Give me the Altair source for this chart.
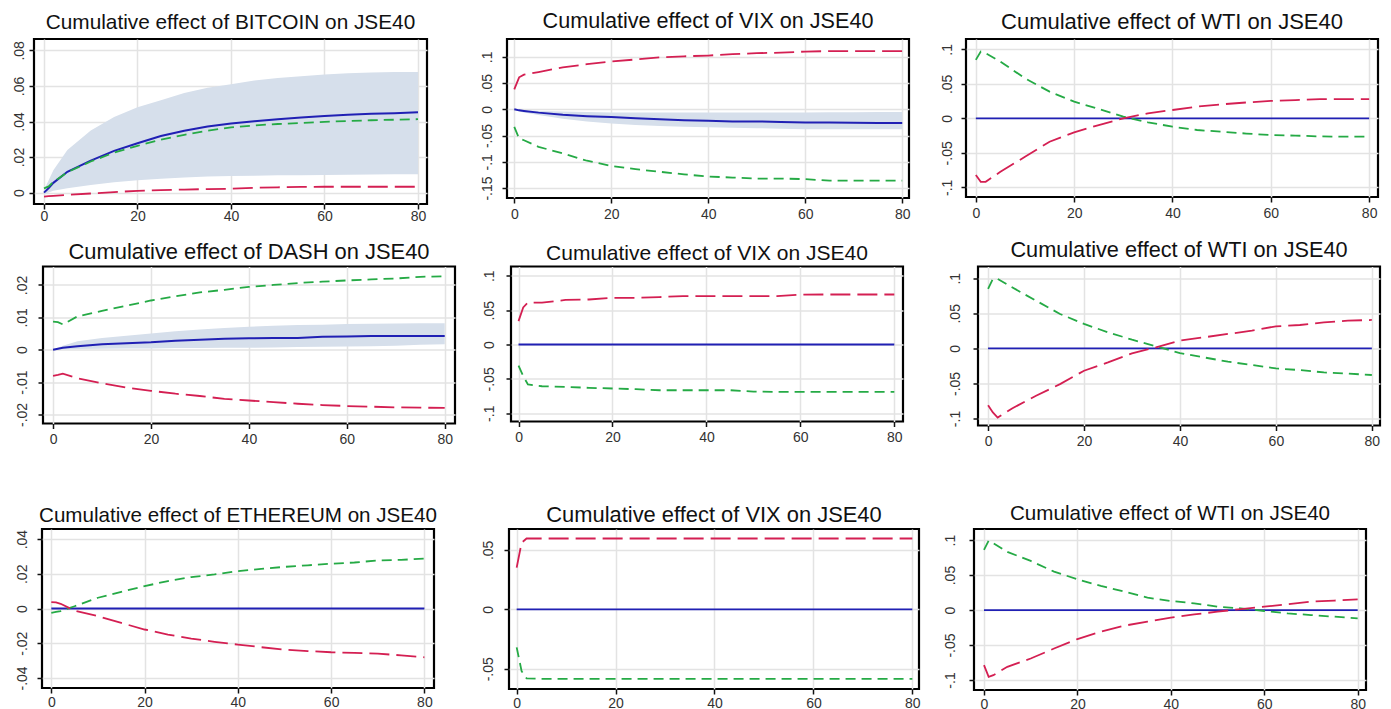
import altair as alt
import pandas as pd

STEPS = [0, 1, 2, 5, 10, 15, 20, 25, 30, 35, 40, 45, 50, 55, 60, 65, 70, 75, 80]
X_TICKS = [0, 20, 40, 60, 80]

zero_line = [0, 0, 0, 0, 0, 0, 0, 0, 0, 0, 0, 0, 0, 0, 0, 0, 0, 0, 0]

# Panel 1: BITCOIN
btc_irf = [0, .0025, .0055, .0117, .018, .0235, .0278, .0318, .0348, .0372, .0389, .0402, .0413, .0422, .0431, .0438, .0443, .0447, .0452]
btc_green = [.0024, .0035, .006, .0115, .0175, .0225, .0263, .0298, .0325, .0348, .0367, .0378, .0386, .0392, .0398, .0403, .0407, .041, .0413]
btc_red = [-.0022, -.002, -.0018, -.0013, -.0005, .0003, .001, .0014, .0017, .002, .0022, .0027, .003, .0032, .0033, .0033, .0033, .0033, .0033]
btc_hi = [.0015, .007, .0126, .024, .035, .0425, .048, .052, .056, .059, .061, .063, .0645, .0655, .0665, .0672, .0676, .0678, .0679]
btc_lo = [-.001, 0, .001, .0024, .0043, .0058, .007, .0078, .0085, .009, .0093, .0095, .0097, .0098, .0099, .0101, .0102, .0103, .0104]

# Panel 2: VIX (row 1)
vix1_irf = [0, -.002, -.003, -.0063, -.0105, -.013, -.0146, -.017, -.019, -.021, -.022, -.023, -.023, -.024, -.025, -.025, -.0255, -.026, -.026]
vix1_hi = [0, -.001, -.002, -.003, -.004, -.005, -.006, -.006, -.006, -.006, -.006, -.006, -.006, -.006, -.006, -.0055, -.0055, -.005, -.005]
vix1_lo = [0, -.004, -.006, -.011, -.018, -.023, -.027, -.030, -.032, -.033, -.034, -.035, -.036, -.037, -.038, -.038, -.038, -.038, -.038]
vix1_red = [.038, .061, .066, .071, .080, .086, .091, .095, .099, .101, .1025, .105, .107, .108, .110, .111, .111, .111, .111]
vix1_green = [-.0335, -.0557, -.059, -.0715, -.084, -.098, -.108, -.114, -.119, -.124, -.128, -.130, -.132, -.132, -.133, -.136, -.136, -.136, -.136]

# Panel 3: WTI (row 1)
wti1_green = [.0847, .0968, .0944, .0823, .058, .0387, .0242, .0136, .0024, -.0058, -.0121, -.0169, -.0194, -.022, -.0242, -.025, -.0262, -.0266, -.0266]
wti1_red = [-.082, -.092, -.092, -.0774, -.0557, -.0339, -.0203, -.0097, 0, .0073, .0121, .017, .0203, .023, .0252, .0265, .028, .028, .028]

# Panel 4: DASH
dash_irf = [0, .0003, .0006, .0011, .0017, .002, .0023, .0028, .0031, .0034, .0035, .0036, .0036, .004, .0041, .0042, .0042, .0042, .0042]
dash_hi = [0, .0006, .0012, .0026, .0036, .0043, .005, .0057, .0062, .0067, .0071, .0074, .0076, .0077, .0079, .008, .0081, .0082, .0082]
dash_lo = [0, .0001, .0001, .0002, .0003, .0004, .0004, .0005, .0005, .0006, .0006, .0007, .0008, .0009, .001, .0011, .0012, .0015, .0017]
dash_green = [.0087, .0085, .0078, .0103, .012, .0136, .0152, .0165, .0177, .0185, .0194, .02, .0206, .021, .0214, .0217, .022, .0225, .0227]
dash_red = [-.0081, -.0078, -.0074, -.0088, -.0104, -.0117, -.0127, -.0136, -.0143, -.0152, -.0157, -.0162, -.0167, -.0171, -.0174, -.0176, -.0178, -.0179, -.018]

# Panel 5: VIX (row 2)
vix2_red = [.034, .054, .061, .061, .0648, .0655, .068, .068, .069, .0704, .0704, .0704, .0704, .0704, .0725, .0728, .0728, .0728, .0728]
vix2_green = [-.0306, -.046, -.058, -.0607, -.0617, -.063, -.064, -.065, -.0665, -.0665, -.0665, -.0665, -.0684, -.069, -.069, -.069, -.069, -.069, -.069]

# Panel 6: WTI (row 2)
wti2_green = [.0848, .099, .099, .087, .068, .049, .0348, .0229, .0124, .0029, -.0067, -.0129, -.019, -.0238, -.0286, -.031, -.0343, -.036, -.038]
wti2_red = [-.081, -.0914, -.0986, -.0857, -.0676, -.051, -.0319, -.02, -.0071, .0014, .011, .0157, .0205, .0252, .0314, .0333, .0371, .0395, .0405]

# Panel 7: ETHEREUM
eth_green = [-.0025, -.002, -.0015, .0013, .0062, .0096, .0129, .0158, .0181, .0196, .0215, .0228, .024, .0249, .0258, .0265, .0277, .028, .0288]
eth_red = [.0037, .0035, .0027, -.0012, -.0044, -.0083, -.0121, -.015, -.0173, -.0192, -.0208, -.0223, -.0237, -.0245, -.0252, -.0256, -.026, -.027, -.0281]

# Panel 8: VIX (row 3)
vix3_red = [.035, .056, .0595, .0595, .0595, .0595, .0595, .0595, .0595, .0595, .0595, .0595, .0595, .0595, .0595, .0595, .0595, .0595, .0595]
vix3_green = [-.032, -.052, -.058, -.0585, -.0585, -.0585, -.0585, -.0585, -.0585, -.0585, -.0585, -.0585, -.0585, -.0585, -.0585, -.0585, -.0585, -.0585, -.0585]

# Panel 9: WTI (row 3)
wti3_green = [.086, .099, .0955, .083, .0702, .0549, .0439, .0344, .0263, .0177, .0129, .0096, .0048, .0024, -.0014, -.0048, -.0072, -.0095, -.0119]
wti3_red = [-.0788, -.0955, -.0931, -.0812, -.0693, -.055, -.0415, -.031, -.0224, -.0167, -.011, -.0062, -.0024, .0014, .0048, .0081, .012, .0135, .0153]

BLUE = "#2020b4"
RED = "#d41f52"
GREEN = "#25aa45"
BAND = "#d6dfeb"

LABEL_EXPR = ("datum.value == 0 ? '0' : (datum.value < 0 ? '-' + substring(format(-datum.value, '~g'), 1)"
              " : substring(format(datum.value, '~g'), 1))")


def spacer(w):
    return alt.Chart(pd.DataFrame({"a": [0]})).mark_rule(opacity=0).encode(
        x=alt.value(0), x2=alt.value(w), y=alt.value(0)
    ).properties(width=w, height=1, view=alt.ViewBackground(stroke="transparent"))


def panel(title, irf, red, green, ydom, yticks, xdom, w, h, toff, tsize,
          lo=None, hi=None, xext=24, blue_w=1.8, ypad=15, xpad=4):
    cols = {"step": STEPS, "irf": irf, "red": red, "green": green}
    if lo is not None:
        cols["lo"] = lo
        cols["hi"] = hi
    df = pd.DataFrame(cols)
    xs = alt.Scale(domain=xdom, nice=False, zero=False)
    ys = alt.Scale(domain=ydom, nice=False, zero=False)
    xa = alt.Axis(values=X_TICKS, title=None, minExtent=xext, maxExtent=xext, labelPadding=xpad)
    ya = alt.Axis(values=yticks, title=None, labelExpr=LABEL_EXPR, labelPadding=ypad)
    x = alt.X("step:Q", scale=xs, axis=xa)
    base = alt.Chart(df)
    layers = []
    if lo is not None:
        layers.append(base.mark_area(color=BAND, opacity=1).encode(
            x=x, y=alt.Y("lo:Q", scale=ys, axis=ya), y2="hi:Q"))
    layers.append(base.mark_line(color=BLUE, strokeWidth=blue_w).encode(
        x=x, y=alt.Y("irf:Q", scale=ys, axis=ya)))
    layers.append(base.mark_line(color=GREEN, strokeWidth=1.8, strokeDash=[10, 6]).encode(
        x=x, y=alt.Y("green:Q", scale=ys, axis=ya)))
    layers.append(base.mark_line(color=RED, strokeWidth=1.8, strokeDash=[20, 7]).encode(
        x=x, y=alt.Y("red:Q", scale=ys, axis=ya)))
    return alt.layer(*layers).properties(
        width=w, height=h, title=alt.TitleParams(text=title, offset=toff, fontSize=tsize))


T = "Cumulative effect of {} on JSE40"

p1 = panel(T.format("BITCOIN"), btc_irf, btc_red, btc_green, [-0.0064, 0.0864],
           [0, .02, .04, .06, .08], [-2.14, 81.93], 393, 165, 5.6, 20.8,
           lo=btc_lo, hi=btc_hi, blue_w=2, ypad=10, xpad=0)
p2 = panel(T.format("VIX"), vix1_irf, vix1_red, vix1_green, [-0.169, 0.134],
           [-.15, -.1, -.05, 0, .05, .1], [-1.5, 81.4], 402, 159, 6.1, 21.6,
           lo=vix1_lo, hi=vix1_hi, blue_w=2, ypad=15)
p3 = panel(T.format("WTI"), zero_line, wti1_red, wti1_green, [-0.114, 0.115],
           [-.1, -.05, 0, .05, .1], [-2.0, 81.8], 412, 158, 4.9, 22, ypad=13.5)
p4 = panel(T.format("DASH"), dash_irf, dash_red, dash_green, [-0.0228, 0.0257],
           [-.02, -.01, 0, .01, .02], [-2.05, 82.1], 412, 157, 3, 21.9,
           lo=dash_lo, hi=dash_hi, xext=66, blue_w=2, ypad=15.5)
p5 = panel(T.format("VIX"), zero_line, vix2_red, vix2_green, [-0.112, 0.1135],
           [-.1, -.05, 0, .05, .1], [-1.6, 81.85], 392, 155, 2.1, 21, xext=66, ypad=16.5)
p6 = panel(T.format("WTI"), zero_line, wti2_red, wti2_green, [-0.11, 0.1167],
           [-.1, -.05, 0, .05, .1], [-2.1, 81.7], 402, 159, 4.7, 21.7, xext=66, ypad=18)
p7 = panel(T.format("ETHEREUM"), zero_line, eth_red, eth_green, [-0.0458, 0.0458],
           [-.04, -.02, 0, .02, .04], [-2.0, 82.06], 392, 159, 2.7, 20.6, xpad=2, ypad=14.5)
p8 = panel(T.format("VIX"), zero_line, vix3_red, vix3_green, [-0.067, 0.0675],
           [-.05, 0, .05], [-1.55, 81.35], 410, 160, 2, 21.9, xpad=2, ypad=15.5)
p9 = panel(T.format("WTI"), zero_line, wti3_red, wti3_green, [-0.1143, 0.1158],
           [-.1, -.05, 0, .05, .1], [-2.14, 81.78], 392, 161, 4.7, 20.6, xpad=2, ypad=19)

row1 = alt.hconcat(spacer(24), p1, spacer(80), p2, spacer(57), p3, spacing=0, bounds="flush")
row2 = alt.hconcat(spacer(33), p4, spacer(56), p5, spacer(75), p6, spacing=0, bounds="flush")
row3 = alt.hconcat(spacer(32), p7, spacer(75), p8, spacer(55), p9, spacing=0, bounds="flush")

chart = alt.vconcat(row1, row2, row3, spacing=8.5).properties(
    padding={"left": 0, "top": 2, "right": 0, "bottom": 0}
).configure_view(
    stroke="black", strokeWidth=2.2
).configure_axis(
    grid=True, gridColor="#e3e3e3", gridWidth=1.5, domain=False,
    tickColor="#111", tickSize=5, tickWidth=1.5,
    labelFont="Liberation Sans", labelFontSize=14, labelColor="#333"
).configure_axisY(
    labelAngle=270, labelAlign="center", labelBaseline="middle"
).configure_title(
    font="Liberation Sans", fontWeight="normal", color="#111", anchor="middle"
)

chart.save("out.html", embed_options={"renderer": "svg", "actions": False})
